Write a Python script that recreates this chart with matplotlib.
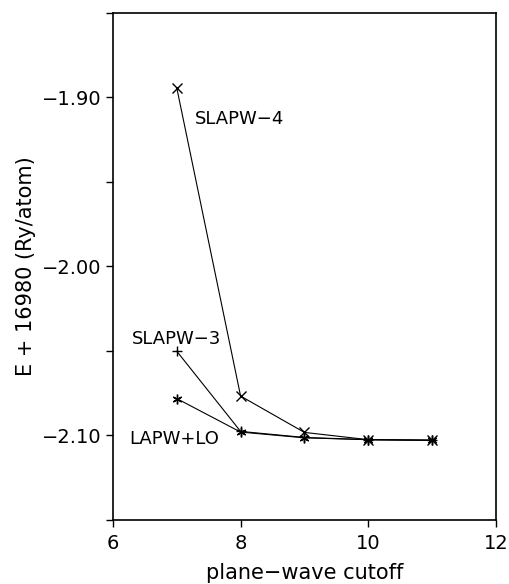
"""Total energy vs plane-wave cutoff for SLAPW-4, SLAPW-3 and LAPW+LO."""

import matplotlib

matplotlib.use("Agg")
import matplotlib.pyplot as plt


cutoff = [7, 8, 9, 10, 11]
slapw4 = [-1.8945, -2.0767, -2.0982, -2.1025, -2.1028]
slapw3 = [-2.0502, -2.0976, -2.1012, -2.1025, -2.1028]
lapw_lo = [-2.0782, -2.0980, -2.1014, -2.1025, -2.1029]

x_ticks = [6, 8, 10, 12]
y_ticks = [-2.15, -2.10, -2.05, -2.00, -1.95, -1.90, -1.85]
y_labels = ["", "\u22122.10", "", "\u22122.00", "", "\u22121.90", ""]

plt.rcParams["font.family"] = ["DejaVu Sans"]

fig = plt.figure(figsize=(5.09, 5.84), dpi=100)
ax = fig.add_axes([0.222, 0.1096, 0.752, 0.8686])

line_kw = dict(color="black", linewidth=0.8, markersize=7, markeredgewidth=1.0)
ax.plot(cutoff, slapw4, marker="x", **line_kw)
ax.plot(cutoff, slapw3, marker="+", **line_kw)
ax.plot(cutoff, lapw_lo, marker=(6, 2, 0), **line_kw)

ax.text(7.29, -1.913, "SLAPW\u22124", fontsize=13, va="center", ha="left")
ax.text(6.29, -2.0428, "SLAPW\u22123", fontsize=13, va="center", ha="left")
ax.text(6.25, -2.1022, "LAPW+LO", fontsize=13, va="center", ha="left")

ax.set_xlim(6, 12)
ax.set_ylim(-2.15, -1.85)
ax.set_xticks(x_ticks)
ax.set_xticklabels([str(t) for t in x_ticks])
ax.set_yticks(y_ticks)
ax.set_yticklabels(y_labels)
ax.tick_params(axis="both", direction="out", length=5, width=1.0, labelsize=14, pad=3.5)
ax.tick_params(axis="x", pad=5)
for spine in ax.spines.values():
    spine.set_linewidth(1.2)

ax.set_xlabel("plane\u2212wave cutoff", fontsize=15, labelpad=7)
ax.set_ylabel("E + 16980 (Ry/atom)", fontsize=15, labelpad=4)

fig.savefig("out.png", dpi=100)
